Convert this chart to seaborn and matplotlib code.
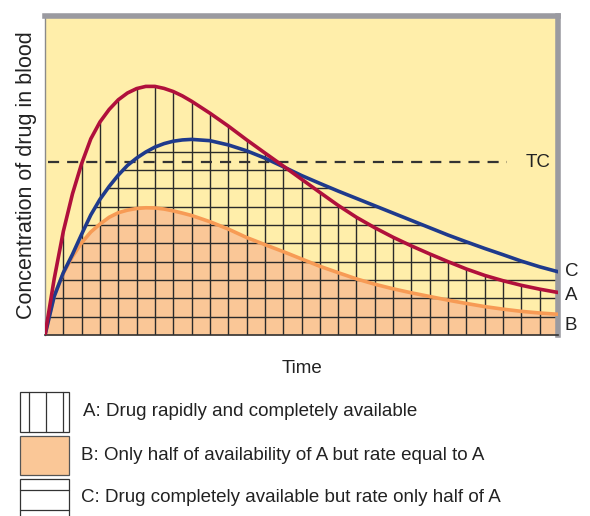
import numpy as np
import seaborn as sns
import matplotlib.pyplot as plt
from matplotlib.patches import Rectangle

# time and concentration, both in grid cells
time = [0, 0.5, 1, 1.5, 2, 2.5, 3, 3.5, 4, 4.5, 5, 5.5, 6, 6.5, 7, 7.5, 8,
        9, 10, 11, 12, 13, 14, 15, 16, 17, 18, 19, 20, 21, 22, 23, 24, 25, 26, 27, 28]
conc_a = [0, 3.05, 5.65, 7.7, 9.35, 10.7, 11.62, 12.3, 12.83, 13.2, 13.44, 13.56, 13.56,
          13.45, 13.28, 13.04, 12.75,
          12.1, 11.4, 10.65, 9.93, 9.22, 8.5, 7.78, 7.07, 6.42, 5.85, 5.33, 4.86, 4.42,
          4.0, 3.6, 3.25, 2.96, 2.71, 2.5, 2.32]
conc_b = [0, 2.15, 3.36, 4.28, 5.03, 5.62, 6.05, 6.42, 6.67, 6.81, 6.9, 6.94, 6.93,
          6.87, 6.77, 6.65, 6.52,
          6.18, 5.78, 5.32, 4.93, 4.55, 4.15, 3.75, 3.4, 3.06, 2.77, 2.52, 2.3, 2.1,
          1.9, 1.72, 1.55, 1.41, 1.29, 1.2, 1.13]
conc_c = [0, 2.1, 3.4, 4.4, 5.5, 6.55, 7.4, 8.1, 8.72, 9.25, 9.65, 9.98, 10.25,
          10.44, 10.57, 10.64, 10.67,
          10.6, 10.37, 10.05, 9.65, 9.18, 8.7, 8.27, 7.85, 7.45, 7.05, 6.65, 6.25, 5.85,
          5.45, 5.08, 4.72, 4.38, 4.03, 3.72, 3.45]
tc_level = 9.42
tc_end = 25.2

legend_labels = ["A: Drug rapidly and completely available",
                 "B: Only half of availability of A but rate equal to A",
                 "C: Drug completely available but rate only half of A"]

yellow = "#FFEEAA"
orange_fill = "#FAC797"
orange_line = "#F79B55"
red = "#B0103C"
blue = "#1F3A8C"
grid_col = "#2a2a2a"
txt = "#222222"

sns.set_style("white")
plt.rcParams['font.family'] = ['Liberation Sans', 'DejaVu Sans']

W, H = 590, 516
fig = plt.figure(figsize=(W / 100, H / 100), dpi=100)
ax = fig.add_axes([45 / W, 1 - 335 / H, 513 / W, 319 / H])
ax.set_facecolor(yellow)
ax.set_xlim(0, 28)
ax.set_ylim(0, 17.4)

# area under B
ax.fill_between(time, 0, conc_b, color=orange_fill, lw=0, zorder=1)

# invisible areas used to clip the grid hatching
area_a = ax.fill_between(time, 0, conc_a, color='none', lw=0)
area_c = ax.fill_between(time, 0, conc_c, color='none', lw=0)

vl = ax.vlines(np.arange(1, 28), 0, 17.4, color=grid_col, lw=1.0, zorder=2)
vl.set_clip_path(area_a.get_paths()[0], ax.transData)
hl = ax.hlines(np.arange(1, int(max(conc_c)) + 1), 0, 28, color=grid_col, lw=1.0, zorder=2)
hl.set_clip_path(area_c.get_paths()[0], ax.transData)

ax.hlines(tc_level, 0.15, tc_end, color="#333333", lw=1.6, linestyles=(0, (5, 3.6)), zorder=3)
ax.text(tc_end + 1.05, tc_level, "TC", fontsize=13.5, color=txt, va='center', ha='left')

line_kw = dict(lw=2.6, solid_joinstyle='round', solid_capstyle='round', ax=ax)
sns.lineplot(x=time, y=conc_b, color=orange_line, zorder=4, **line_kw)
sns.lineplot(x=time, y=conc_c, color=blue, zorder=5, **line_kw)
sns.lineplot(x=time, y=conc_a, color=red, zorder=6, **line_kw)

for lab, ys, dy in [("C", conc_c, 0), ("A", conc_a, -2), ("B", conc_b, -8)]:
    ax.annotate(lab, xy=(28, ys[-1]), xytext=(5, dy), textcoords='offset points',
                fontsize=13.5, color=txt, va='center', ha='left', annotation_clip=False)

ax.set_xticks([])
ax.set_yticks([])
ax.set_xlabel("Time", fontsize=13.5, color=txt, labelpad=18)
ax.set_ylabel("Concentration of drug in blood", fontsize=15.5, color=txt, labelpad=6)
for side in ["top", "right"]:
    ax.spines[side].set_color("#9a9aa0")
    ax.spines[side].set_linewidth(4)
ax.spines["left"].set_color("#8a8a8a")
ax.spines["left"].set_linewidth(1)
ax.spines["bottom"].set_color("#333333")
ax.spines["bottom"].set_linewidth(1.2)


def fig_rect(x0, y0, x1, y1, **kw):
    r = Rectangle((x0 / W, 1 - y1 / H), (x1 - x0) / W, (y1 - y0) / H,
                  transform=fig.transFigure, **kw)
    fig.add_artist(r)


def fig_line(x0, y0, x1, y1):
    fig.add_artist(plt.Line2D([x0 / W, x1 / W], [1 - y0 / H, 1 - y1 / H],
                              transform=fig.transFigure, color="#333333", lw=0.9))


# legend swatches
fig_rect(20, 392, 69, 432, facecolor="white", edgecolor="#333333", lw=0.9)
for xv in [29, 46, 63]:
    fig_line(xv, 392, xv, 432)
fig_rect(20, 436, 69, 475, facecolor=orange_fill, edgecolor="#555555", lw=0.9)
fig_rect(20, 479, 69, 530, facecolor="white", edgecolor="#333333", lw=0.9)
for yv in [490, 510]:
    fig_line(20, yv, 69, yv)

for lab, xt, yt in zip(legend_labels, [83, 81, 81], [412, 455, 497]):
    fig.text(xt / W, 1 - yt / H, lab, fontsize=13.5, color=txt, va='center', ha='left')

plt.savefig("out.png", dpi=100)
